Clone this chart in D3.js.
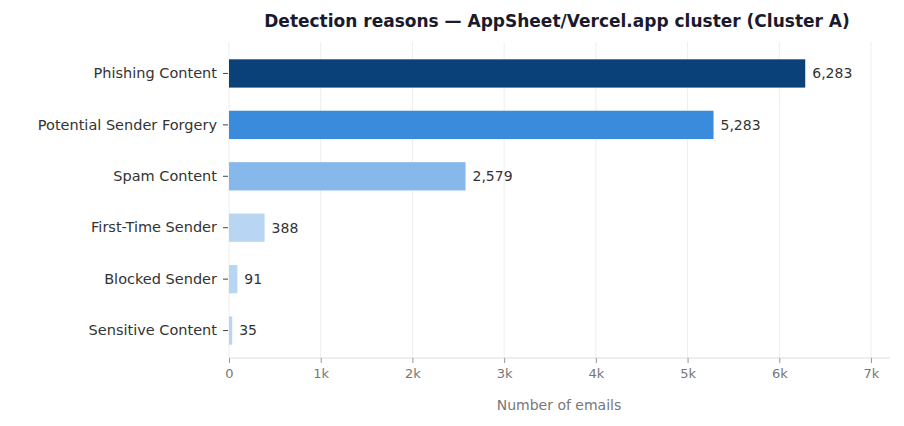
<!DOCTYPE html>
<html><head><meta charset="utf-8">
<script src="https://cdn.jsdelivr.net/npm/d3@7"></script>
<style>body{margin:0;background:#fff}text{font-family:"DejaVu Sans",sans-serif}</style>
</head><body><svg id="c" width="904" height="426"></svg>
<script>
var categories = ["Phishing Content","Potential Sender Forgery","Spam Content","First-Time Sender","Blocked Sender","Sensitive Content"];
var counts = [6283, 5283, 2579, 388, 91, 35];
var colors = ["#0b4179","#3a8bdb","#86b8eb","#b8d6f4","#b8d6f4","#b8d6f4"];
var ticks = [0,1000,2000,3000,4000,5000,6000,7000];

var svg = d3.select("#c");
var m = {l:229, r:890, t:48, b:356};
var x = d3.scaleLinear().domain([0,7000]).range([m.l, m.l + 7000*642/7000]);
var y = d3.scaleBand().domain(categories).range([m.t, m.b]).paddingInner(0.45).paddingOuter(0.22);

svg.append("g").selectAll("line").data(ticks).enter().append("line")
  .attr("x1", d => x(d)).attr("x2", d => x(d)).attr("y1", m.t - 6).attr("y2", 358)
  .attr("stroke", "#eeeeee");
svg.append("line").attr("x1", m.l).attr("x2", m.r).attr("y1", 358).attr("y2", 358).attr("stroke", "#dddddd");

var xa = svg.append("g").attr("transform", "translate(0,358)")
  .call(d3.axisBottom(x).tickValues(ticks).tickFormat(d => d ? (d/1000) + "k" : "0").tickSize(5).tickPadding(6));
xa.select(".domain").remove();
xa.selectAll("line").attr("stroke", "#999");
xa.selectAll("text").attr("fill", "#777").attr("font-size", 13).style("font-family", "DejaVu Sans");

var ya = svg.append("g").attr("transform", "translate(" + (m.l - 1) + ",0)")
  .call(d3.axisLeft(y).tickSize(5).tickPadding(6));
ya.select(".domain").remove();
ya.selectAll("line").attr("stroke", "#444");
ya.selectAll("text").attr("fill", "#333").attr("font-size", 14.5).style("font-family", "DejaVu Sans");

svg.append("g").selectAll("rect").data(counts).enter().append("rect")
  .attr("x", x(0)).attr("y", (d,i) => y(categories[i]))
  .attr("width", d => x(d) - x(0)).attr("height", y.bandwidth())
  .attr("fill", (d,i) => colors[i]);

svg.append("g").selectAll("text").data(counts).enter().append("text")
  .attr("x", d => x(d) + 7).attr("y", (d,i) => y(categories[i]) + y.bandwidth()/2)
  .attr("dy", "0.35em").attr("font-size", 14).attr("fill", "#333")
  .text(d => d3.format(",")(d));

svg.append("text").attr("x", 557).attr("y", 27).attr("text-anchor", "middle")
  .attr("font-size", 17).attr("font-weight", "bold").attr("fill", "#1a1a2e")
  .text("Detection reasons — AppSheet/Vercel.app cluster (Cluster A)");
svg.append("text").attr("x", 559).attr("y", 410).attr("text-anchor", "middle")
  .attr("font-size", 14).attr("fill", "#777").text("Number of emails");
</script></body></html>
